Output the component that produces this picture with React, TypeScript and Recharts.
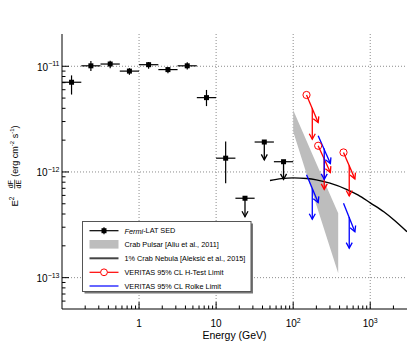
import React from "react";
import {
  ComposedChart,
  XAxis,
  YAxis,
  Scatter,
  Line,
  Area,
  ErrorBar,
  CartesianGrid,
} from "recharts";

// Fermi-LAT SED (energy in GeV, E^2 dF/dE in erg cm^-2 s^-1)
const FERMI_E = [0.133, 0.237, 0.422, 0.75, 1.33, 2.37, 4.22, 7.5, 13.3];
const FERMI_E_LO = [0.1, 0.178, 0.316, 0.562, 1, 1.78, 3.16, 5.62, 10];
const FERMI_E_HI = [0.178, 0.316, 0.562, 1, 1.78, 3.16, 5.62, 10, 17.8];
const FERMI_F = [7.06e-12, 1.01e-11, 1.05e-11, 9.0e-12, 1.035e-11, 9.3e-12, 1.01e-11, 5.05e-12, 1.35e-12];
const FERMI_F_LO = [5.4e-12, 9.0e-12, 9.6e-12, 8.3e-12, 9.5e-12, 8.6e-12, 9.3e-12, 4.2e-12, 7.8e-13];
const FERMI_F_HI = [8.2e-12, 1.12e-11, 1.13e-11, 9.6e-12, 1.1e-11, 9.8e-12, 1.09e-11, 5.97e-12, 1.94e-12];

// Fermi-LAT upper limits
const UL_E = [23.7, 42.2, 75];
const UL_E_LO = [17.8, 31.6, 56.2];
const UL_E_HI = [31.6, 56.2, 100];
const UL_F = [5.64e-13, 1.92e-12, 1.25e-12];
const UL_TIP = [3.77e-13, 1.3e-12, 8.5e-13];

// VERITAS limits, three energy bins
const VTS_E_LO = [149, 211, 450];
const VTS_E_HI = [211, 304, 632];
const VTS_E_MID = [177, 253, 534];
const HTEST_F_START = [5.35e-12, 1.77e-12, 1.53e-12];
const HTEST_F_END = [2.93e-12, 9.9e-13, 8.6e-13];
const HTEST_F_MID = [4.01e-12, 1.33e-12, 1.15e-12];
const HTEST_F_TIP = [2.04e-12, 6.85e-13, 5.93e-13];
const ROLKE_F_START = [9.4e-13, 2.2e-12, 5.06e-13];
const ROLKE_F_END = [5.13e-13, 1.2e-12, 2.72e-13];
const ROLKE_F_MID = [6.98e-13, 1.67e-12, 3.75e-13];
const ROLKE_F_TIP = [3.57e-13, 8.5e-13, 1.9e-13];

// 1% Crab Nebula
const NEB_E = [50, 70, 100, 150, 200, 300, 500, 700, 1000, 1500, 2000, 3000];
const NEB_F = [8.3e-13, 8.64e-13, 8.79e-13, 8.67e-13, 8.42e-13, 7.83e-13, 6.82e-13, 6.04e-13, 5.1e-13, 4.2e-13, 3.55e-13, 2.72e-13];

// Crab pulsar band
const PSR_E = [100, 200, 384];
const PSR_F_LO = [2.41e-12, 4.88e-13, 1.1e-13];
const PSR_F_HI = [3.86e-12, 1.2e-12, 4.07e-13];

// axes
const X_DOMAIN = [0.1, 3000];
const Y_DOMAIN = [5.05e-14, 2.02e-11];
const X_TICKS = [
  0.2, 0.3, 0.4, 0.5, 0.6, 0.7, 0.8, 0.9, 1, 2, 3, 4, 5, 6, 7, 8, 9, 10,
  20, 30, 40, 50, 60, 70, 80, 90, 100, 200, 300, 400, 500, 600, 700, 800, 900, 1000, 2000,
];
const Y_TICKS = [
  6e-14, 7e-14, 8e-14, 9e-14, 1e-13, 2e-13, 3e-13, 4e-13, 5e-13, 6e-13, 7e-13, 8e-13, 9e-13,
  1e-12, 2e-12, 3e-12, 4e-12, 5e-12, 6e-12, 7e-12, 8e-12, 9e-12, 1e-11,
];
const GRID_X = [1, 10, 100, 1000];
const GRID_Y = [1e-13, 1e-12, 1e-11];

const FONT = '"Liberation Sans", Arial, Helvetica, sans-serif';
const RED = "#ff0000";
const BLUE = "#0000ff";
const MARKER: Record<string, string> = { "#000": "ah-black", [RED]: "ah-red", [BLUE]: "ah-blue" };

const fermiPoints = FERMI_E.map((e, i) => ({
  x: e,
  y: FERMI_F[i],
  ex: [e - FERMI_E_LO[i], FERMI_E_HI[i] - e],
  ey: [FERMI_F[i] - FERMI_F_LO[i], FERMI_F_HI[i] - FERMI_F[i]],
}));
const ulPoints = UL_E.map((e, i) => ({
  x: e,
  y: UL_F[i],
  ex: [e - UL_E_LO[i], UL_E_HI[i] - e],
}));
const nebula = NEB_E.map((e, i) => ({ x: e, y: NEB_F[i] }));
const band = PSR_E.map((e, i) => ({ x: e, band: [PSR_F_LO[i], PSR_F_HI[i]] }));
const htestStarts = VTS_E_LO.map((e, i) => ({ x: e, y: HTEST_F_START[i] }));

// arrow segments (start -> tip)
type Seg = { key: string; color: string; pts: { x: number; y: number }[] };
const segs: Seg[] = [];
UL_E.forEach((e, i) =>
  segs.push({ key: `ul${i}`, color: "#000", pts: [{ x: e, y: UL_F[i] }, { x: e, y: UL_TIP[i] }] })
);
VTS_E_MID.forEach((e, i) => {
  segs.push({
    key: `rs${i}`,
    color: RED,
    pts: [{ x: VTS_E_LO[i], y: HTEST_F_START[i] }, { x: VTS_E_HI[i], y: HTEST_F_END[i] }],
  });
  segs.push({ key: `rv${i}`, color: RED, pts: [{ x: e, y: HTEST_F_MID[i] }, { x: e, y: HTEST_F_TIP[i] }] });
  segs.push({
    key: `bs${i}`,
    color: BLUE,
    pts: [{ x: VTS_E_LO[i], y: ROLKE_F_START[i] }, { x: VTS_E_HI[i], y: ROLKE_F_END[i] }],
  });
  segs.push({ key: `bv${i}`, color: BLUE, pts: [{ x: e, y: ROLKE_F_MID[i] }, { x: e, y: ROLKE_F_TIP[i] }] });
});

const isMajor = (v: number) => {
  const lg = Math.log10(v);
  return Math.abs(lg - Math.round(lg)) < 1e-6;
};

const XTick = (props: any) => {
  const { x, y, payload } = props;
  const v = payload.value;
  const major = isMajor(v);
  const exp = Math.round(Math.log10(v));
  let label: React.ReactNode = null;
  if (major) {
    label =
      exp === 0 || exp === 1 ? (
        <text x={x} y={y + 18} textAnchor="middle" fontSize={10} fontFamily={FONT} fill="#000">
          {exp === 0 ? "1" : "10"}
        </text>
      ) : (
        <text x={x} y={y + 18} textAnchor="middle" fontSize={10} fontFamily={FONT} fill="#000">
          10
          <tspan dy={-4.5} fontSize={7}>
            {exp < 0 ? `\u2212${-exp}` : `${exp}`}
          </tspan>
        </text>
      );
  }
  return (
    <g>
      <line x1={x} x2={x} y1={y} y2={y - (major ? 7 : 3.5)} stroke="#000" />
      {label}
    </g>
  );
};

const YTick = (props: any) => {
  const { x, y, payload } = props;
  const v = payload.value;
  const major = isMajor(v);
  const exp = Math.round(Math.log10(v));
  return (
    <g>
      <line x1={x} x2={x + (major ? 7 : 3.5)} y1={y} y2={y} stroke="#000" />
      {major && (
        <text x={x - 2.5} y={y + 4.4} textAnchor="end" fontSize={10} fontFamily={FONT} fill="#000">
          10
          <tspan dy={-4.5} fontSize={7}>{`\u2212${-exp}`}</tspan>
        </text>
      )}
    </g>
  );
};

const Square = (props: any) => (
  <rect x={props.cx - 2.5} y={props.cy - 2.5} width={5} height={5} fill="#000" />
);
const OpenCircle = (props: any) => (
  <circle cx={props.cx} cy={props.cy} r={3.6} fill="none" stroke={RED} strokeWidth={1} />
);

const LEGEND_ROWS = [230.7, 244.3, 258.3, 272.3, 286];

function Legend() {
  const x0 = 89.5;
  const x1 = 118.5;
  const xm = (x0 + x1) / 2;
  const tx = 124.5;
  const txt = { fontSize: 7.3, fontFamily: FONT, fill: "#000", dominantBaseline: "central" as const };
  return (
    <g>
      <rect x={84.5} y={223.5} width={168.5} height={70} fill="#777" />
      <rect x={82.5} y={221.5} width={168.5} height={70} fill="#fff" stroke="#555" strokeWidth={1} />
      {/* Fermi */}
      <line x1={x0} x2={x1} y1={LEGEND_ROWS[0]} y2={LEGEND_ROWS[0]} stroke="#000" strokeWidth={1.2} />
      <line x1={xm} x2={xm} y1={LEGEND_ROWS[0] - 3.5} y2={LEGEND_ROWS[0] + 3.5} stroke="#000" strokeWidth={1.2} />
      <rect x={xm - 2.5} y={LEGEND_ROWS[0] - 2.5} width={5} height={5} fill="#000" />
      <text x={tx} y={LEGEND_ROWS[0]} {...txt}>
        <tspan fontStyle="italic">Fermi</tspan>-LAT SED
      </text>
      {/* pulsar band */}
      <rect x={x0} y={LEGEND_ROWS[1] - 4.3} width={x1 - x0} height={8.6} fill="#bdbdbd" />
      <text x={tx} y={LEGEND_ROWS[1]} {...txt}>Crab Pulsar [Aliu et al., 2011]</text>
      {/* nebula */}
      <line x1={x0} x2={x1} y1={LEGEND_ROWS[2]} y2={LEGEND_ROWS[2]} stroke="#444" strokeWidth={2} />
      <text x={tx} y={LEGEND_ROWS[2]} {...txt}>1% Crab Nebula [Aleksić et al., 2015]</text>
      {/* H-test */}
      <line x1={x0} x2={x1} y1={LEGEND_ROWS[3]} y2={LEGEND_ROWS[3]} stroke={RED} strokeWidth={1.2} />
      <circle cx={xm} cy={LEGEND_ROWS[3]} r={3.4} fill="#fff" stroke={RED} strokeWidth={1} />
      <text x={tx} y={LEGEND_ROWS[3]} {...txt}>VERITAS 95% CL H-Test Limit</text>
      {/* Rolke */}
      <line x1={x0} x2={x1} y1={LEGEND_ROWS[4]} y2={LEGEND_ROWS[4]} stroke={BLUE} strokeWidth={1.2} />
      <text x={tx} y={LEGEND_ROWS[4]} {...txt}>VERITAS 95% CL Rolke Limit</text>
    </g>
  );
}

function YLabel() {
  return (
    <g transform="translate(18,206.5) rotate(-90)" fontFamily={FONT} fill="#000">
      <text x={0} y={0} fontSize={9.5}>
        E<tspan dy={-4} fontSize={6.5}>2</tspan>
      </text>
      <text x={22.3} y={-4.6} fontSize={7} textAnchor="middle">dF</text>
      <line x1={17.8} x2={26.8} y1={-3.3} y2={-3.3} stroke="#000" strokeWidth={0.7} />
      <text x={22.3} y={3.2} fontSize={7} textAnchor="middle">dE</text>
      <text x={29.8} y={0} fontSize={9}>
        (erg cm<tspan dy={-3.8} fontSize={6}>-2</tspan>
        <tspan dy={3.8}> s</tspan>
        <tspan dy={-3.8} fontSize={6}>-1</tspan>
        <tspan dy={3.8}>)</tspan>
      </text>
    </g>
  );
}

export default function App() {
  return (
    <div style={{ position: "fixed", left: 0, top: 0, width: 415, height: 344, background: "#fff" }}>
      <svg width={0} height={0} style={{ position: "absolute" }}>
        <defs>
          {Object.entries(MARKER).map(([c, id]) => (
            <marker
              key={id}
              id={id}
              markerUnits="userSpaceOnUse"
              markerWidth={10}
              markerHeight={10}
              refX={5.5}
              refY={3}
              orient="auto"
              overflow="visible">
              <path d="M0,0 L5.5,3 L0,6" fill="none" stroke={c} strokeWidth={1.3} />
            </marker>
          ))}
        </defs>
      </svg>
      <ComposedChart width={415} height={344} margin={{ top: 34, right: 8, bottom: 0, left: 0 }}>
        <CartesianGrid
          horizontalValues={GRID_Y}
          verticalValues={GRID_X}
          stroke="#8c8c8c"
          strokeDasharray="1 2"
          fill="none"
        />
        <XAxis
          type="number"
          dataKey="x"
          scale="log"
          domain={X_DOMAIN}
          allowDataOverflow
          ticks={X_TICKS}
          interval={0}
          tick={(p: any) => <XTick {...p} />}
          tickLine={false}
          tickSize={0}
          tickMargin={0}
          axisLine={{ stroke: "#000" }}
          height={35}
        />
        <XAxis
          xAxisId="top"
          orientation="top"
          type="number"
          scale="log"
          domain={X_DOMAIN}
          allowDataOverflow
          tick={false}
          tickLine={false}
          axisLine={{ stroke: "#000" }}
          height={0}
        />
        <YAxis
          type="number"
          scale="log"
          domain={Y_DOMAIN}
          allowDataOverflow
          ticks={Y_TICKS}
          interval={0}
          tick={(p: any) => <YTick {...p} />}
          tickLine={false}
          tickSize={0}
          tickMargin={0}
          axisLine={{ stroke: "#000" }}
          width={62}
        />
        <YAxis
          yAxisId="right"
          orientation="right"
          type="number"
          scale="log"
          domain={Y_DOMAIN}
          allowDataOverflow
          tick={false}
          tickLine={false}
          axisLine={{ stroke: "#555", strokeWidth: 1.5 }}
          width={0}
        />
        <Area
          data={band}
          dataKey="band"
          type="linear"
          stroke="none"
          fill="#bdbdbd"
          fillOpacity={1}
          isAnimationActive={false}
        />
        <Line
          data={nebula}
          dataKey="y"
          type="monotone"
          stroke="#000"
          strokeWidth={1.4}
          dot={false}
          activeDot={false}
          isAnimationActive={false}
        />
        {segs.map((s) => (
          <Line
            key={s.key}
            data={s.pts}
            dataKey="y"
            type="linear"
            stroke={s.color}
            strokeWidth={1.3}
            dot={false}
            activeDot={false}
            markerEnd={`url(#${MARKER[s.color]})`}
            isAnimationActive={false}
          />
        ))}
        <Scatter data={htestStarts} dataKey="y" shape={OpenCircle} isAnimationActive={false} />
        <Scatter data={fermiPoints} dataKey="y" shape={Square} isAnimationActive={false}>
          <ErrorBar dataKey="ex" direction="x" width={0} stroke="#000" strokeWidth={1.2} />
          <ErrorBar dataKey="ey" direction="y" width={0} stroke="#000" strokeWidth={1.2} />
        </Scatter>
        <Scatter data={ulPoints} dataKey="y" shape={Square} isAnimationActive={false}>
          <ErrorBar dataKey="ex" direction="x" width={0} stroke="#000" strokeWidth={1.2} />
        </Scatter>
      </ComposedChart>
      <svg
        width={415}
        height={344}
        style={{ position: "absolute", left: 0, top: 0, pointerEvents: "none" }}>
        <YLabel />
        <text x={234.5} y={338.7} textAnchor="middle" fontSize={10.5} fontFamily={FONT} fill="#000">
          Energy (GeV)
        </text>
        <Legend />
      </svg>
    </div>
  );
}
